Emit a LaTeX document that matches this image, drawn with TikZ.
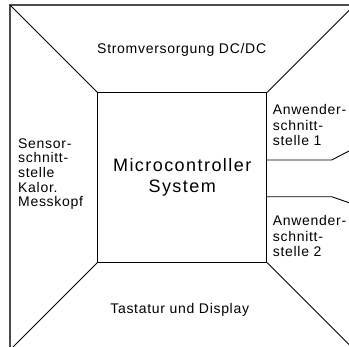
\documentclass[tikz,border=0pt]{standalone}
\usepackage{fontspec}
\setmainfont{Liberation Sans}
\newfontfamily\lblfont[LetterSpace=5]{Liberation Sans}
\newfontfamily\bigfont[LetterSpace=8]{Liberation Sans}
\begin{document}
\begin{tikzpicture}[x=1bp,y=-1bp,
  frame/.style={draw=black!70, line width=1.1bp},
  edge/.style={draw=black, line width=0.9bp},
  lbl/.style={inner sep=0pt, font=\lblfont\fontsize{14bp}{15bp}\selectfont, align=left},
]
\useasboundingbox (0,0) rectangle (349,347);
\clip (0,0) rectangle (349,347);
\coordinate (O1) at (10,5);
\coordinate (O2) at (354.4,5);
\coordinate (O3) at (354.4,350);
\coordinate (O4) at (10,350);
\draw[frame] (O1) -- (O2) -- (O3) -- (O4) -- cycle;
\node[edge, minimum width=169bp, minimum height=169.6bp, inner sep=0pt, align=center,
      font=\bigfont\fontsize{18bp}{21bp}\selectfont] (mc) at (182.2,177.5) {Microcontroller\\System};
\draw[edge] (O1) -- (mc.north west);
\draw[edge] (O2) -- (mc.north east);
\draw[edge] (O3) -- (mc.south east);
\draw[edge] (O4) -- (mc.south west);
\coordinate (r1) at (331.7,160);
\coordinate (r1e) at (354.4,148.2);
\coordinate (r2) at (331.7,196.7);
\coordinate (r2e) at (354.4,204.6);
\draw[edge] (mc.east |- r1) -- (r1) -- (r1e);
\draw[edge] (mc.east |- r2) -- (r2) -- (r2e);
\node[lbl, anchor=base] (strom) at (181.7,53.5) {Stromversorgung DC/DC};
\node[lbl, anchor=base] (tast) at (179.7,313.3) {Tastatur und Display};
\node[lbl, anchor=north west, font=\lblfont\fontsize{14bp}{14.6bp}\selectfont] (sens) at (18,138.3) {Sensor-\\schnitt-\\stelle\\Kalor.\\Messkopf};
\node[lbl, anchor=north west, font=\lblfont\fontsize{14bp}{15.5bp}\selectfont] (anw1) at (272.7,104.3) {Anwender-\\schnitt-\\stelle 1};
\node[lbl, anchor=north west, font=\lblfont\fontsize{14bp}{15.5bp}\selectfont] (anw2) at (272.7,215.3) {Anwender-\\schnitt-\\stelle 2};
\end{tikzpicture}
\end{document}
